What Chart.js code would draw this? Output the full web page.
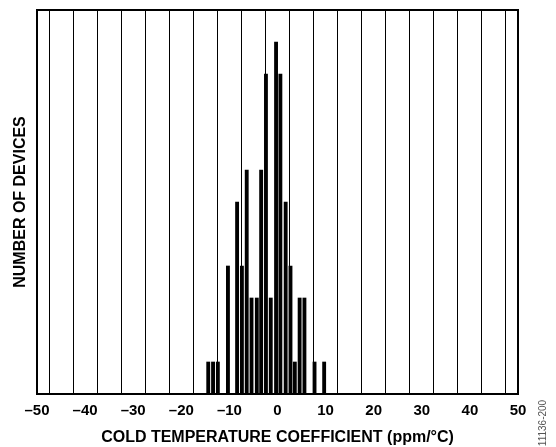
<!DOCTYPE html>
<html>
<head>
<meta charset="utf-8">
<script src="https://cdn.jsdelivr.net/npm/chart.js@4/dist/chart.umd.min.js"></script>
<style>
  html, body { margin: 0; padding: 0; background: #fff; }
  canvas { display: block; }
</style>
</head>
<body>
<canvas id="c" width="556" height="447"></canvas>
<script>
// Bin centres (ppm/°C)
const binCenters = [-14.4, -13.4, -12.4, -10.3, -8.4, -7.4, -6.4, -5.4, -4.3, -3.4, -2.4, -1.4, -0.3, 0.6, 1.7, 2.7, 3.6, 4.6, 5.6, 7.7, 9.7];
// Number of devices per bin
const deviceCounts = [1, 1, 1, 4, 6, 4, 7, 3, 3, 7, 10, 3, 11, 10, 6, 4, 1, 3, 3, 1, 1];
// Axis
const xMin = -50, xMax = 50, xGridStep = 5, xLabelStep = 10;
const yMin = 0, yMax = 12;
const xTitle = 'COLD TEMPERATURE COEFFICIENT (ppm/°C)';
const yTitle = 'NUMBER OF DEVICES';
const figureId = '11136-200';

const FONT = "'Liberation Sans', Arial, Helvetica, sans-serif";

const frame = {
  id: 'frame',
  afterDatasetsDraw(chart) {
    const {ctx, chartArea: a} = chart;
    ctx.save();
    ctx.strokeStyle = '#000';
    ctx.lineWidth = 2;
    ctx.strokeRect(a.left, a.top, a.right - a.left, a.bottom - a.top);
    ctx.restore();
  },
  afterDraw(chart) {
    const {ctx} = chart;
    ctx.save();
    ctx.translate(543, 423);
    ctx.rotate(-Math.PI / 2);
    ctx.font = "10px " + FONT;
    ctx.fillStyle = '#555';
    ctx.textAlign = 'center';
    ctx.textBaseline = 'middle';
    ctx.fillText(figureId, 0, 0);
    ctx.restore();
  }
};

new Chart(document.getElementById('c'), {
  type: 'bar',
  data: {
    datasets: [{
      data: binCenters.map((x, i) => ({x: x, y: deviceCounts[i]})),
      backgroundColor: '#000',
      borderWidth: 0,
      barThickness: 3.2
    }]
  },
  plugins: [frame],
  options: {
    responsive: false,
    animation: false,
    layout: { padding: { top: 10, right: 38, left: 0, bottom: 0 } },
    plugins: { legend: { display: false }, tooltip: { enabled: false } },
    scales: {
      x: {
        type: 'linear',
        min: xMin, max: xMax,
        offset: false,
        afterFit(s) { s.height = 53; },
        grid: { color: '#000', lineWidth: 1, drawTicks: false },
        border: { display: true, color: '#000', width: 2 },
        ticks: {
          stepSize: xGridStep,
          autoSkip: false,
          maxRotation: 0,
          padding: 8,
          color: '#000',
          font: { family: FONT, size: 15, weight: 'bold' },
          callback: (v) => (v % xLabelStep === 0 ? (v < 0 ? '\u2013' + Math.abs(v) : String(v)) : '')
        },
        title: {
          display: true,
          text: xTitle,
          color: '#000',
          font: { family: FONT, size: 16, weight: 'bold' },
          padding: { top: 0, bottom: 0 }
        }
      },
      y: {
        min: yMin, max: yMax,
        afterFit(s) { s.width = 37; },
        grid: { display: false, drawTicks: false },
        border: { display: true, color: '#000', width: 2 },
        ticks: { display: false },
        title: {
          display: true,
          text: yTitle,
          color: '#000',
          font: { family: FONT, size: 16, weight: 'bold' },
          padding: { top: 11, bottom: 0 }
        }
      }
    }
  }
});
</script>
</body>
</html>
